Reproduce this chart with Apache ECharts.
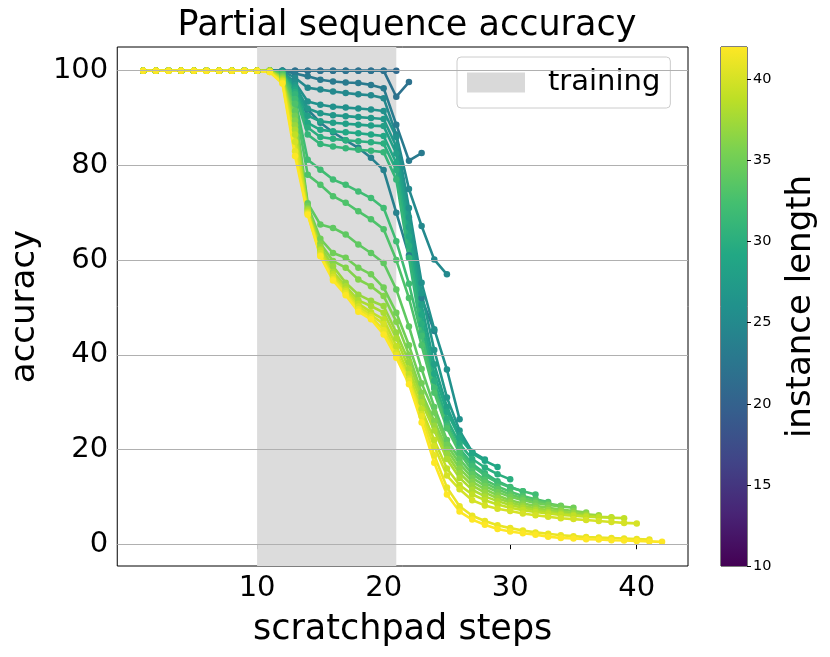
<!DOCTYPE html>
<html>
<head>
<meta charset="utf-8">
<script src="https://cdn.jsdelivr.net/npm/echarts@6/dist/echarts.min.js"></script>
<style>html,body{margin:0;padding:0;background:#fff}#c{width:830px;height:657px}</style>
</head>
<body>
<div id="c"></div>
<script>
// ---- data: accuracy (%) at scratchpad steps 1..L for each instance length L ----
const lengths = [21,22,23,24,25,26,27,28,29,30,31,32,33,34,35,36,37,38,39,40,41,42];
const acc21 = [100,100,100,100,100,100,100,100,100,100,100,100,100,100,100,100,100,100,100,100,100];
const acc22 = [100,100,100,100,100,100,100,100,100,100,100,100,100,100,100,100,100,100,100,100,94.5,97.6];
const acc23 = [100,100,100,100,100,100,100,100,100,100,100,100,99.4,98.8,98.1,97.7,97.5,97.4,97.0,96.3,88.6,81.0,82.6];
const acc24 = [100,100,100,100,100,100,100,100,100,100,100,99.6,96.5,91.8,89.0,87.0,85.3,83.7,81.6,79.0,70.0,61.0,52.0,45.0];
const acc25 = [100,100,100,100,100,100,100,100,100,100,100,100,98.5,96.4,96.0,95.6,95.3,95.0,94.8,94.2,86.5,75.0,67.2,60.1,57.0];
const acc26 = [100,100,100,100,100,100,100,100,100,100,100,99.8,97.5,93.5,92.8,92.4,92.2,92.0,91.8,91.5,86.0,71.0,55.2,45.4,36.9,26.4];
const acc27 = [100,100,100,100,100,100,100,100,100,100,100,99.7,97.0,92.0,91.0,90.6,90.4,90.2,90.0,89.8,84.0,69.0,53.0,41.0,31.0,24.0,19.5];
const acc28 = [100,100,100,100,100,100,100,100,100,100,100,99.6,96.5,90.5,89.3,89.0,88.8,88.6,88.4,88.3,82.5,67.0,50.5,38.0,29.0,23.0,19.5,17.9];
const acc29 = [100,100,100,100,100,100,100,100,100,100,100,99.5,96.0,89.0,87.5,87.2,87.0,86.8,86.5,86.2,80.5,65.0,48.5,36.0,28.0,22.5,19.2,17.6,16.3];
const acc30 = [100,100,100,100,100,100,100,100,100,100,100,99.4,95.5,88.0,86.0,85.6,85.3,85.1,84.9,84.6,79.0,63.0,46.5,34.5,26.5,21.2,18.0,16.2,14.8,13.7];
const acc31 = [100,100,100,100,100,100,100,100,100,100,100,99.3,95.0,86.5,84.5,84.0,83.6,83.3,83.1,82.8,77.0,60.5,44.5,33.0,25.5,20.2,17.0,15.0,13.3,12.1,11.2];
const acc32 = [100,100,100,100,100,100,100,100,100,100,100,99.5,94.0,81.2,79.1,77.0,75.9,74.5,73.1,71.0,64.0,55.0,44.0,33.0,25.0,19.8,16.5,14.5,13.0,12.0,11.2,10.5];
const acc33 = [100,100,100,100,100,100,100,100,100,100,100,99.3,93.0,78.0,75.9,73.5,72.1,70.3,68.6,66.5,60.0,52.0,42.0,32.0,24.5,19.3,15.5,13.6,12.2,11.1,10.2,9.5,8.9];
const acc34 = [100,100,100,100,100,100,100,100,100,100,100,99.0,91.5,72.0,67.5,66.8,65.4,63.3,61.5,59.4,53.8,46.0,37.0,29.0,22.0,18.0,14.8,13.0,11.6,10.5,9.7,9.1,8.6,8.1];
const acc35 = [100,100,100,100,100,100,100,100,100,100,100,98.8,90.5,71.5,64.5,61.5,60.5,58.4,57.0,54.2,48.9,42.0,34.0,27.8,21.0,17.0,14.0,12.3,11.0,10.0,9.3,8.7,8.3,8.0,7.7];
const acc36 = [100,100,100,100,100,100,100,100,100,100,100,98.6,89.5,71.0,63.5,59.8,58.4,55.9,54.5,52.4,47.0,40.0,32.0,26.0,20.0,16.0,13.2,11.6,10.3,9.3,8.6,8.1,7.7,7.3,7.0,6.7];
const acc37 = [100,100,100,100,100,100,100,100,100,100,100,98.4,88.5,70.8,62.8,58.7,55.2,52.7,51.4,50.3,44.7,38.5,31.0,25.0,19.0,15.0,12.4,10.9,9.7,8.8,8.1,7.6,7.2,6.9,6.6,6.3,6.1];
const acc38 = [100,100,100,100,100,100,100,100,100,100,100,98.2,87.5,70.5,62.3,57.5,54.5,51.5,50.3,48.9,43.5,37.0,30.0,24.0,18.0,14.0,11.5,10.1,9.1,8.3,7.7,7.2,6.8,6.5,6.2,6.0,5.8,5.7];
const acc39 = [100,100,100,100,100,100,100,100,100,100,100,98.0,86.5,70.2,62.0,57.0,53.8,50.8,49.0,47.5,41.8,35.9,28.5,22.0,16.0,12.5,10.5,9.3,8.4,7.7,7.2,6.8,6.5,6.2,6.0,5.8,5.7,5.6,5.5];
const acc40 = [100,100,100,100,100,100,100,100,100,100,99.8,97.8,85.0,70.0,61.5,56.5,53.4,50.2,48.4,46.5,40.5,35.0,27.5,20.7,14.5,11.6,9.3,8.2,7.5,7.0,6.5,6.1,5.8,5.5,5.3,5.1,4.9,4.7,4.5,4.4];
const acc41 = [100,100,100,100,100,100,100,100,100,100,99.7,97.5,83.0,69.8,61.0,56.0,53.0,49.6,48.0,45.2,40.0,34.5,27.0,18.8,12.0,8.0,6.0,4.9,4.0,3.4,2.9,2.5,2.2,1.9,1.7,1.5,1.4,1.3,1.2,1.1,1.0];
const acc42 = [100,100,100,100,100,100,100,100,100,100,99.7,97.3,82.0,69.6,60.8,55.7,52.6,49.1,47.5,44.3,39.4,33.8,25.7,17.2,10.5,6.9,5.2,4.1,3.2,2.7,2.3,2.0,1.6,1.3,1.2,1.05,1.0,0.85,0.8,0.7,0.6,0.5];
const accuracyByLength = [acc21,acc22,acc23,acc24,acc25,acc26,acc27,acc28,acc29,acc30,acc31,acc32,acc33,acc34,acc35,acc36,acc37,acc38,acc39,acc40,acc41,acc42];
const trainingRange = [10, 21];
const xTicks = [10, 20, 30, 40];
const yTicks = [0, 20, 40, 60, 80, 100];
const cbarTicks = [10, 15, 20, 25, 30, 35, 40];
const cbarMin = 10, cbarMax = 42;

// ---- viridis colormap (style) ----
const viridis = ['#440154','#482475','#414487','#355f8d','#2a788e','#21918c','#22a884','#44bf70','#7ad151','#bddf26','#fde725'];
function hex2rgb(h){return [parseInt(h.slice(1,3),16),parseInt(h.slice(3,5),16),parseInt(h.slice(5,7),16)];}
function cmap(t){
  t = Math.max(0, Math.min(1, t));
  const p = t * (viridis.length - 1), i = Math.min(Math.floor(p), viridis.length - 2), f = p - i;
  const a = hex2rgb(viridis[i]), b = hex2rgb(viridis[i+1]);
  return 'rgb(' + a.map((v,k)=>Math.round(v + (b[k]-v)*f)).join(',') + ')';
}

const FONT = 'DejaVu Sans';
const chart = echarts.init(document.getElementById('c'), null, {renderer:'canvas'});

const lineSeries = lengths.map((L, idx) => {
  const col = cmap((L - cbarMin) / (cbarMax - cbarMin));
  return {
    type: 'line', name: 'len' + L, xAxisIndex: 0, yAxisIndex: 0,
    data: accuracyByLength[idx].map((v, i) => [i + 1, v]),
    symbol: 'circle', symbolSize: 6.5, showSymbol: true,
    lineStyle: {width: 2.6, color: col}, itemStyle: {color: col},
    silent: true, z: 3
  };
});

const gradStops = viridis.map((c, i) => ({offset: i / (viridis.length - 1), color: c}));

const option = {
  animation: false,
  backgroundColor: '#fff',
  textStyle: {fontFamily: FONT},
  title: {
    text: 'Partial sequence accuracy', left: 402, top: 3, textAlign: 'center',
    textStyle: {fontFamily: FONT, fontSize: 35, fontWeight: 'normal', color: '#000'}
  },
  legend: {
    data: [{name: 'training', icon: 'rect'}],
    left: 457, top: 57, itemWidth: 58, itemHeight: 20,
    backgroundColor: 'rgba(255,255,255,0.8)', borderColor: '#cccccc', borderWidth: 1, borderRadius: 4,
    padding: [11, 10, 11, 10],
    textStyle: {fontFamily: FONT, fontSize: 29, color: '#000', padding: [0, 0, 0, 18]},
    selectedMode: false
  },
  grid: [
    {left: 117, top: 47, width: 571, height: 519, show: true, borderColor: '#000', borderWidth: 1, backgroundColor: 'transparent'},
    {left: 721, top: 47, width: 26, height: 519, show: true, borderColor: '#000', borderWidth: 1, backgroundColor: 'transparent'}
  ],
  xAxis: [
    {type: 'value', gridIndex: 0, min: -1.05, max: 44.05,
     name: 'scratchpad steps', nameLocation: 'middle', nameGap: 46,
     nameTextStyle: {fontFamily: FONT, fontSize: 35, color: '#000'},
     axisLine: {show: false}, splitLine: {show: false},
     axisTick: {show: true, customValues: xTicks, length: 5, lineStyle: {color: '#000'}},
     axisLabel: {customValues: xTicks, fontFamily: FONT, fontSize: 29, color: '#000', margin: 8}},
    {type: 'category', gridIndex: 1, data: ['cb'], show: false}
  ],
  yAxis: [
    {type: 'value', gridIndex: 0, min: -4.6, max: 105,
     name: 'accuracy', nameLocation: 'middle', nameGap: 70, nameRotate: 90,
     nameTextStyle: {fontFamily: FONT, fontSize: 34, color: '#000'},
     axisLine: {show: false}, splitLine: {show: false},
     axisTick: {show: true, customValues: yTicks, length: 5, lineStyle: {color: '#000'}},
     axisLabel: {customValues: yTicks, fontFamily: FONT, fontSize: 29, color: '#000', margin: 9}},
    {type: 'value', gridIndex: 1, min: cbarMin, max: cbarMax, position: 'right',
     name: 'instance length', nameLocation: 'middle', nameGap: 37, nameRotate: 90,
     nameTextStyle: {fontFamily: FONT, fontSize: 34, color: '#000'},
     axisLine: {show: false}, splitLine: {show: false},
     axisTick: {show: true, customValues: cbarTicks, length: 4, lineStyle: {color: '#000'}},
     axisLabel: {customValues: cbarTicks, fontFamily: FONT, fontSize: 14.5, color: '#000', margin: 6}}
  ],
  series: [
    {type: 'line', name: 'training', data: [], xAxisIndex: 0, yAxisIndex: 0,
     itemStyle: {color: '#d9d9d9'}, lineStyle: {color: '#d9d9d9'}, silent: true, z: 1,
     markArea: {silent: true, itemStyle: {color: '#dcdcdc'},
       data: [[{xAxis: trainingRange[0]}, {xAxis: trainingRange[1]}]]}},
    {type: 'line', name: 'grid', data: [], xAxisIndex: 0, yAxisIndex: 0, silent: true, z: 2,
     markLine: {silent: true, symbol: ['none', 'none'], label: {show: false},
       lineStyle: {color: '#b0b0b0', width: 1.2, type: 'solid'},
       data: yTicks.map(v => ({yAxis: v}))}},
    {type: 'bar', name: 'cbBase', xAxisIndex: 1, yAxisIndex: 1, stack: 'cb', data: [cbarMin],
     barWidth: '100%', itemStyle: {color: 'transparent'}, silent: true},
    {type: 'bar', name: 'cbFill', xAxisIndex: 1, yAxisIndex: 1, stack: 'cb', data: [cbarMax - cbarMin],
     barWidth: '100%', silent: true,
     itemStyle: {color: new echarts.graphic.LinearGradient(0, 1, 0, 0, gradStops)}}
  ].concat(lineSeries)
};
chart.setOption(option);
</script>
</body>
</html>
